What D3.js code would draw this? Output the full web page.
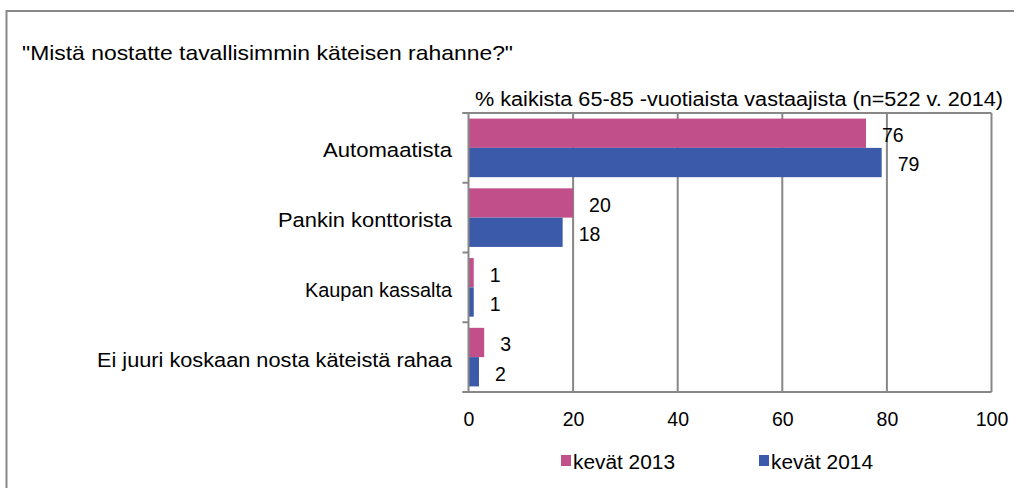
<!DOCTYPE html>
<html>
<head>
<meta charset="utf-8">
<script src="https://cdn.jsdelivr.net/npm/d3@7"></script>
<style>
  html, body { margin: 0; padding: 0; background: #fff; overflow: hidden; }
  svg { display: block; font-family: "Liberation Sans", Arial, sans-serif; }
</style>
</head>
<body>
<svg id="chart" width="1014" height="488"></svg>
<script>
// Survey answers: where respondents usually withdraw cash (% of respondents)
const categories = [
  "Automaatista",
  "Pankin konttorista",
  "Kaupan kassalta",
  "Ei juuri koskaan nosta käteistä rahaa"
];
const seriesNames = ["kevät 2013", "kevät 2014"];
const values2013 = [76, 20, 1, 3];
const values2014 = [79, 18, 1, 2];
const xTicks = [0, 20, 40, 60, 80, 100];

const titleText = "\"Mistä nostatte tavallisimmin käteisen rahanne?\"";
const subtitleText = "% kaikista 65-85 -vuotiaista vastaajista (n=522 v. 2014)";

const colors = ["#C1508A", "#3B5AA9"];
const gridColor = "#878787";
const textColor = "#000";
const fontSize = 19.5;

const svg = d3.select("#chart");

// Outer chart frame (runs off the right and bottom edges)
svg.append("rect")
  .attr("x", 6.5).attr("y", 11)
  .attr("width", 1100).attr("height", 600)
  .attr("fill", "none").attr("stroke", gridColor).attr("stroke-width", 2);

// Title and subtitle
svg.append("text")
  .attr("x", 22).attr("y", 60)
  .attr("font-size", 21)
  .attr("textLength", 491).attr("lengthAdjust", "spacingAndGlyphs")
  .attr("fill", textColor)
  .text(titleText);

svg.append("text")
  .attr("x", 475).attr("y", 106)
  .attr("font-size", fontSize)
  .attr("textLength", 528).attr("lengthAdjust", "spacingAndGlyphs")
  .attr("fill", textColor)
  .text(subtitleText);

// Plot geometry
const plot = { left: 468.5, right: 991.5, top: 113, bottom: 392 };

const x = d3.scaleLinear().domain([0, 100]).range([plot.left, plot.right]);
const y = d3.scaleBand().domain(categories)
  .range([plot.top, plot.bottom])
  .paddingInner(0.16).paddingOuter(0.08);
const ySub = d3.scaleBand().domain(seriesNames).range([0, y.bandwidth()]);

// Vertical gridlines and right frame edge
svg.append("g").selectAll("line")
  .data(xTicks.filter(d => d > 0))
  .join("line")
  .attr("x1", d => x(d)).attr("x2", d => x(d))
  .attr("y1", plot.top).attr("y2", plot.bottom)
  .attr("stroke", gridColor).attr("stroke-width", 2);

// Top frame edge
svg.append("line")
  .attr("x1", plot.left - 6).attr("x2", plot.right)
  .attr("y1", plot.top).attr("y2", plot.top)
  .attr("stroke", gridColor).attr("stroke-width", 2);

// Bars
const rows = categories.map((c, i) => ({ cat: c, vals: [values2013[i], values2014[i]] }));
const groups = svg.append("g").selectAll("g")
  .data(rows).join("g")
  .attr("transform", d => `translate(0,${y(d.cat)})`);

groups.selectAll("rect")
  .data(d => d.vals.map((v, j) => ({ v, s: seriesNames[j], j })))
  .join("rect")
  .attr("x", x(0))
  .attr("y", d => ySub(d.s))
  .attr("width", d => x(d.v) - x(0))
  .attr("height", ySub.bandwidth())
  .attr("fill", d => colors[d.j]);

// Value labels
groups.selectAll("text")
  .data(d => d.vals.map((v, j) => ({ v, s: seriesNames[j], j })))
  .join("text")
  .attr("x", d => x(d.v) + 16)
  .attr("y", d => ySub(d.s) + ySub.bandwidth() / 2)
  .attr("dy", "0.45em")
  .attr("font-size", fontSize)
  .attr("fill", textColor)
  .text(d => d.v);

// Left axis: line plus ticks at category boundaries
const step = y.step();
const boundaries = d3.range(categories.length + 1).map(i => plot.top + i * step);
svg.append("line")
  .attr("x1", plot.left).attr("x2", plot.left)
  .attr("y1", plot.top).attr("y2", plot.bottom)
  .attr("stroke", gridColor).attr("stroke-width", 2);
svg.append("g").selectAll("line")
  .data(boundaries).join("line")
  .attr("x1", plot.left - 6).attr("x2", plot.left)
  .attr("y1", d => d).attr("y2", d => d)
  .attr("stroke", gridColor).attr("stroke-width", 2);

// Category labels with their drawn widths
const catWidths = [129, 174, 147, 355];
svg.append("g").selectAll("text")
  .data(categories).join("text")
  .attr("x", 452)
  .attr("y", d => y(d) + y.bandwidth() / 2 + 2)
  .attr("dy", "0.36em")
  .attr("text-anchor", "end")
  .attr("font-size", 20.5)
  .attr("textLength", (d, i) => catWidths[i])
  .attr("lengthAdjust", "spacingAndGlyphs")
  .attr("fill", textColor)
  .text(d => d);

// Bottom axis
const xAxis = d3.axisBottom(x).tickValues(xTicks).tickSize(0).tickPadding(20);
const gx = svg.append("g")
  .attr("transform", `translate(0,${plot.bottom})`)
  .call(xAxis);
gx.select(".domain").remove();
gx.selectAll("text")
  .attr("font-size", fontSize)
  .attr("font-family", "Liberation Sans, Arial, sans-serif")
  .attr("fill", textColor);
svg.append("line")
  .attr("x1", plot.left - 6).attr("x2", plot.right)
  .attr("y1", plot.bottom).attr("y2", plot.bottom)
  .attr("stroke", gridColor).attr("stroke-width", 2);

// Legend
const legendX = [561, 759];
const legendWidths = [102, 102];
const lg = svg.append("g").selectAll("g")
  .data(seriesNames).join("g")
  .attr("transform", (d, i) => `translate(${legendX[i]},455)`);
lg.append("rect")
  .attr("width", 10).attr("height", 11)
  .attr("fill", (d, i) => colors[i]);
lg.append("text")
  .attr("x", 12).attr("y", 14)
  .attr("font-size", fontSize)
  .attr("textLength", (d, i) => legendWidths[i])
  .attr("lengthAdjust", "spacingAndGlyphs")
  .attr("fill", textColor)
  .text(d => d);
</script>
</body>
</html>
